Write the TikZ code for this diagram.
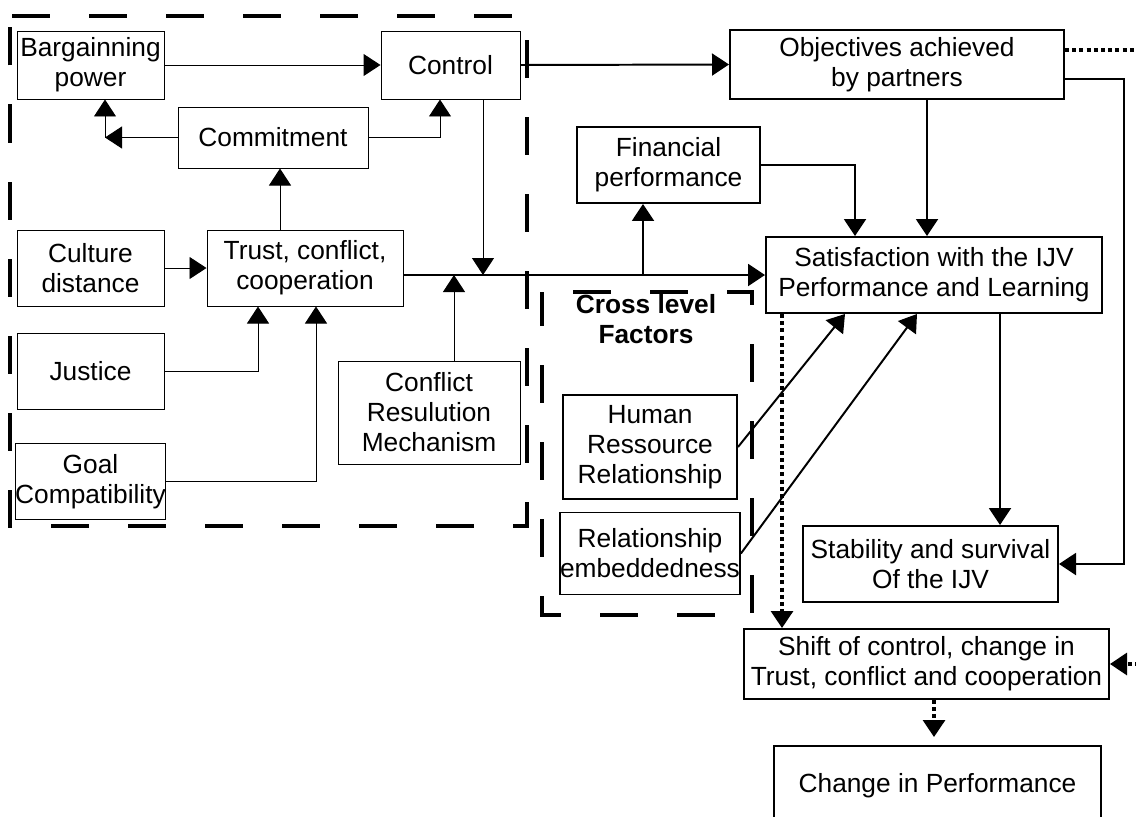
\documentclass[tikz,border=0pt]{standalone}
\usepackage{fontspec}
\setmainfont{Liberation Sans}
\usetikzlibrary{arrows.meta}

\begin{document}
\begin{tikzpicture}[x=0.025cm, y=-0.025cm,
    font=\fontsize{18.7pt}{21.3pt}\selectfont,
    >={Triangle[length=0.425cm,width=0.55cm]},
    sz/.style 2 args={minimum width=#1*0.025cm, minimum height=#2*0.025cm},
    thinbox/.style={draw, line width=0.7pt, align=center, inner sep=0pt},
    thickbox/.style={draw, line width=1.4pt, align=center, inner sep=0pt},
    thin/.style={line width=0.7pt},
    heavy/.style={line width=1.4pt},
    frame/.style={line width=2.6pt, dash pattern=on 0.95cm off 0.975cm},
    dots/.style={line width=2.2pt, dash pattern=on 0.1cm off 0.08cm}]
                \useasboundingbox (0,0) rectangle (1136,816);
                \clip (0,0) rectangle (1136,816);
                % dashed groups
                \draw[frame, dash phase=1.875cm] (10,16) -- (527,16) -- (527,526) -- (10,526) -- cycle;
                \draw[frame, dash phase=1.15cm] (542,292) -- (752,292) -- (752,615) -- (542,615) -- cycle;
                \node[font=\fontsize{18.7pt}{21.3pt}\selectfont\bfseries, align=center, inner sep=0pt] (xlab) at (646,319) {Cross level\\Factors};
                % left block
                \node[thinbox, sz={147}{68}] (bp) at (90.5,65) {Bargainning\\power};
                \node[thinbox, sz={139}{68}] (ctrl) at (450.5,65) {Control};
                \node[thinbox, sz={190}{61}] (com) at (273,137.5) {Commitment};
                \node[thinbox, sz={196}{76}] (tcc) at (305,268) {Trust, conflict,\\cooperation};
                \foreach \y/\name/\word in {268/cul/Culture\\distance, 371/jus/Justice, 481.5/goal/Goal\\Compatibility} {
                    \node[thinbox, sz={147}{76}] (\name) at (90.5,\y) {\word};
                }
                \node[thinbox, sz={182}{103}] (crm) at (429,412.5) {Conflict\\Resulution\\Mechanism};
                % right block
                \node[thickbox, sz={334}{69}] (obj) at (897,64.5) {Objectives achieved\\by partners};
                \node[thickbox, sz={183}{76}] (fin) at (668.5,165) {Financial\\performance};
                \node[thickbox, sz={336}{76}] (sat) at (934,275) {Satisfaction with the IJV\\Performance and Learning};
                \node[thickbox, sz={174}{104}] (hrr) at (650,447) {Human\\Ressource\\Relationship};
                \node[thickbox, sz={174}{82}] (emb) at (650,553.5) {Relationship\\embeddedness};
                \node[thickbox, sz={255}{76}] (stab) at (930.5,564) {Stability and survival\\Of the IJV};
                \node[thickbox, sz={365}{70}] (shift) at (926.5,664) {Shift of control, change in\\Trust, conflict and cooperation};
                \node[thickbox, sz={327}{80}] (chg) at (937.5,786) {Change in Performance};
                % left connectors
                \coordinate (cb) at (105,137.5);
                \draw[thin, ->] (bp.east) -- (ctrl.west);
                \draw[thin, ->] (com.west) -- (cb);
                \draw[thin, ->] (cb) -- (cb |- bp.south);
                \draw[thin, ->] (com.east) -| (ctrl.south -| 440,0);
                \draw[thin, ->] (tcc.north -| 280,0) -- (com.south -| 280,0);
                \draw[thin, ->] (cul.east) -- (tcc.west);
                \draw[thin, ->] (jus.east) -| (tcc.south -| 258,0);
                \draw[thin, ->] (goal.east) -| (tcc.south -| 316,0);
                \draw[thin, ->] (ctrl.south -| 483,0) -- (sat.west -| 483,0);
                \draw[thin, ->] (crm.north -| 454,0) -- (sat.west -| 454,0);
                % right connectors
                \draw[heavy, ->] (tcc.east |- sat.west) -- (sat.west);
                \draw[heavy, ->] (sat.west -| 643,0) -- (fin.south -| 643,0);
                \draw[heavy, ->] (ctrl.east) -- (obj.west);
                \draw[heavy, ->] (obj.south -| 927,0) -- (sat.north -| 927,0);
                \draw[heavy, ->] (fin.east) -| (sat.north -| 855,0);
                \draw[heavy, ->] (hrr.east) -- (sat.south -| 845,0);
                \draw[heavy, ->] (emb.east) -- (sat.south -| 917,0);
                \draw[heavy, ->] (sat.south -| 1000,0) -- (stab.north -| 1000,0);
                \draw[heavy, ->] (obj.east |- 0,79) -- ++(59,0) |- (stab.east);
                \draw[dots, ->] (obj.east |- 0,50) -- ++(90,0) |- (shift.east);
                \draw[dots, ->] (sat.south -| 782,0) -- (shift.north -| 782,0);
                \draw[dots, ->, shorten >=0.2cm] (shift.south -| 934,0) -- (chg.north -| 934,0);
            \end{tikzpicture}
\end{document}
